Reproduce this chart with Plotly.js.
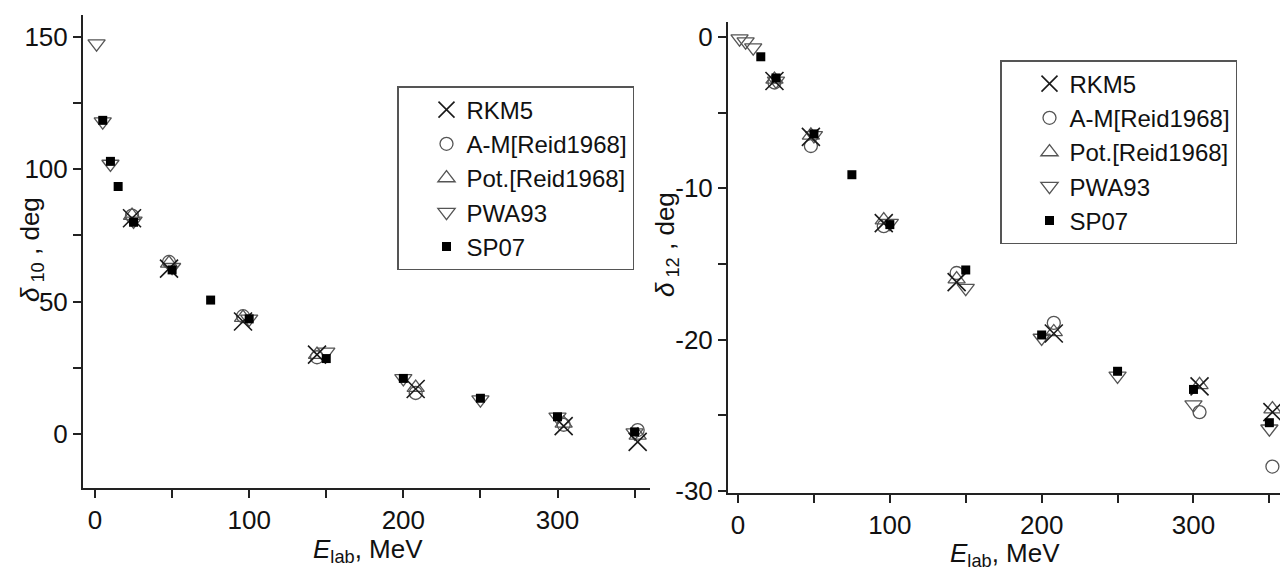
<!DOCTYPE html>
<html>
<head>
<meta charset="utf-8">
<script src="https://cdn.plot.ly/plotly-3.0.1.min.js"></script>
<style>
html,body{margin:0;padding:0;background:#fff;}
#chart{width:1280px;height:571px;}
</style>
</head>
<body>
<div id="chart"></div>
<script>
// ---- data: left panel (delta_10) ----
const E_PWA = [1, 5, 10, 25, 50, 100, 150, 200, 250, 300, 350];
const E_SP07 = [5, 10, 15, 25, 50, 75, 100, 150, 200, 250, 300, 350];
const E_REID = [24, 48, 96, 144, 208, 304, 352];

const d10_RKM5 = [81.5, 62.5, 42.5, 30, 17, 3, -3];
const d10_AM = [82.5, 65, 44.5, 29, 15.5, 3.5, 1.5];
const d10_Pot = [82.5, 64.5, 44, 30, 17.5, 4, -0.5];
const d10_PWA93 = [147.5, 118, 102, 80.5, 63, 43.5, 31, 21, 13, 6.5, 0.5];
const d10_SP07 = [118.5, 103, 93.5, 80, 62, 50.6, 43.5, 28.5, 21, 13.5, 6.5, 0.8];

// ---- data: right panel (delta_12) ----
const d12_RKM5 = [-2.9, -6.6, -12.3, -16.2, -19.6, -23.1, -24.8];
const d12_AM = [-3.0, -7.2, -12.5, -15.6, -18.9, -24.8, -28.4];
const d12_Pot = [-2.8, -6.5, -12.1, -16.0, -19.5, -23.0, -24.6];
const d12_PWA93 = [-0.1, -0.3, -0.7, -2.9, -6.5, -12.3, -16.6, -19.9, -22.4, -24.3, -25.9];
const E_SP07_R = [15, 25, 50, 75, 100, 150, 200, 250, 300, 350];
const d12_SP07 = [-1.3, -2.7, -6.4, -9.1, -12.4, -15.4, -19.7, -22.1, -23.3, -25.5];

// ---- tick labels ----
const xTickVals = [0, 100, 200, 300];
const xTickText = ['0', '100', '200', '300'];
const y10TickVals = [0, 50, 100, 150];
const y10TickText = ['0', '50', '100', '150'];
const y12TickVals = [0, -10, -20, -30];
const y12TickText = ['0', '-10', '-20', '-30'];

const FONT = 'Liberation Sans, Arial, sans-serif';
const styles = {
  'RKM5': {symbol: 'x-thin-open', size: 18, color: '#1a1a1a', line: {width: 1.6, color: '#1a1a1a'}},
  'A-M[Reid1968]': {symbol: 'circle-open', size: 13, color: '#555', line: {width: 1.3, color: '#555'}},
  'Pot.[Reid1968]': {symbol: 'triangle-up-open', size: 15, color: '#555', line: {width: 1.3, color: '#555'}},
  'PWA93': {symbol: 'triangle-down-open', size: 15, color: '#555', line: {width: 1.3, color: '#555'}},
  'SP07': {symbol: 'square', size: 9, color: '#000', line: {width: 0}}
};
const rank = {'RKM5': 1, 'A-M[Reid1968]': 2, 'Pot.[Reid1968]': 3, 'PWA93': 4, 'SP07': 5};

function tr(name, x, y, xa, ya, leg) {
  return {
    type: 'scatter', mode: 'markers', name: name, x: x, y: y,
    xaxis: xa, yaxis: ya, legend: leg, legendrank: rank[name],
    marker: styles[name], hoverinfo: 'x+y+name'
  };
}

const traces = [
  tr('PWA93', E_PWA, d10_PWA93, 'x', 'y', 'legend'),
  tr('Pot.[Reid1968]', E_REID, d10_Pot, 'x', 'y', 'legend'),
  tr('A-M[Reid1968]', E_REID, d10_AM, 'x', 'y', 'legend'),
  tr('RKM5', E_REID, d10_RKM5, 'x', 'y', 'legend'),
  tr('SP07', E_SP07, d10_SP07, 'x', 'y', 'legend'),
  tr('PWA93', E_PWA, d12_PWA93, 'x2', 'y2', 'legend2'),
  tr('Pot.[Reid1968]', E_REID, d12_Pot, 'x2', 'y2', 'legend2'),
  tr('A-M[Reid1968]', E_REID, d12_AM, 'x2', 'y2', 'legend2'),
  tr('RKM5', E_REID, d12_RKM5, 'x2', 'y2', 'legend2'),
  tr('SP07', E_SP07_R, d12_SP07, 'x2', 'y2', 'legend2')
];

const minorTick = {ticks: 'outside', ticklen: 8, tickwidth: 2, tickcolor: '#222', tickmode: 'linear', tick0: 0};
const axBase = {
  showgrid: false, zeroline: false, showline: true, linecolor: '#222', linewidth: 2,
  ticks: 'outside', ticklen: 8, tickwidth: 2, tickcolor: '#222', tickmode: 'array',
  tickfont: {family: FONT, size: 26, color: '#111'},
  mirror: false, fixedrange: true
};
const titleFont = {family: FONT, size: 26, color: '#111'};

const W = 1280, H = 571;
const layout = {
  width: W, height: H,
  margin: {l: 0, r: 0, t: 0, b: 0},
  paper_bgcolor: '#fff', plot_bgcolor: '#fff',
  showlegend: true,
  xaxis: Object.assign({}, axBase, {
    domain: [83 / W, 650 / W], range: [-7.8, 360], anchor: 'y',
    tickvals: xTickVals, ticktext: xTickText,
    minor: Object.assign({}, minorTick, {dtick: 50})
  }),
  yaxis: Object.assign({}, axBase, {
    domain: [1 - 488 / H, 1 - 15 / H], range: [-20.4, 158.3], anchor: 'x',
    tickvals: y10TickVals, ticktext: y10TickText,
    minor: Object.assign({}, minorTick, {dtick: 25})
  }),
  xaxis2: Object.assign({}, axBase, {
    domain: [728 / W, 1], range: [-6.6, 357], anchor: 'y2',
    tickvals: xTickVals, ticktext: xTickText,
    minor: Object.assign({}, minorTick, {dtick: 50})
  }),
  yaxis2: Object.assign({}, axBase, {
    domain: [1 - 493 / H, 1 - 22 / H], range: [-30.15, 1.0], anchor: 'x2',
    tickvals: y12TickVals, ticktext: y12TickText,
    minor: Object.assign({}, minorTick, {dtick: 5})
  }),
  annotations: [
    {text: '<i>δ</i><sub> 10</sub> , deg', xref: 'paper', yref: 'paper',
     x: 31 / W, y: 1 - 250 / H, xanchor: 'center', yanchor: 'middle',
     textangle: -90, showarrow: false, font: titleFont},
    {text: '<i>δ</i><sub> 12</sub> , deg', xref: 'paper', yref: 'paper',
     x: 666 / W, y: 1 - 245 / H, xanchor: 'center', yanchor: 'middle',
     textangle: -90, showarrow: false, font: titleFont},
    {text: '<i>E</i><sub>lab</sub>, MeV', xref: 'paper', yref: 'paper',
     x: 368 / W, y: 1 - 532 / H, xanchor: 'center', yanchor: 'top',
     showarrow: false, font: titleFont},
    {text: '<i>E</i><sub>lab</sub>, MeV', xref: 'paper', yref: 'paper',
     x: 1005 / W, y: 1 - 536 / H, xanchor: 'center', yanchor: 'top',
     showarrow: false, font: titleFont}
  ],
  legend: {
    x: 397 / W, y: 1 - 86 / H, xanchor: 'left', yanchor: 'top',
    bgcolor: '#fff', bordercolor: '#555', borderwidth: 1.5,
    font: {family: FONT, size: 24, color: '#111'},
    indentation: 28, itemsizing: 'trace', tracegroupgap: 0
  },
  legend2: {
    x: 1000 / W, y: 1 - 60 / H, xanchor: 'left', yanchor: 'top',
    bgcolor: '#fff', bordercolor: '#555', borderwidth: 1.5,
    font: {family: FONT, size: 24, color: '#111'},
    indentation: 28, itemsizing: 'trace', tracegroupgap: 0
  }
};

Plotly.newPlot('chart', traces, layout, {displayModeBar: false, staticPlot: true});
</script>
</body>
</html>
